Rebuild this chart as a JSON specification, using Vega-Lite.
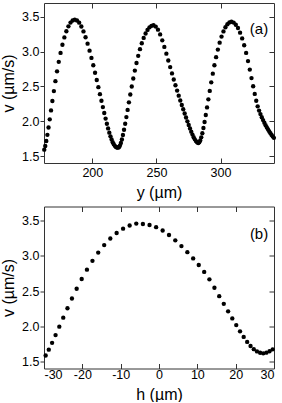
{
  "$schema": "https://vega.github.io/schema/vega-lite/v6.json",
  "padding": {"left": 0, "top": 2, "right": 2, "bottom": 0},
  "spacing": 5.5,
  "config": {
    "view": {"stroke": null},
    "axis": {
      "domainColor": "#333333", "tickColor": "#333333", "domainWidth": 1, "tickWidth": 1,
      "labelFont": "Liberation Sans", "titleFont": "Liberation Sans",
      "labelFontSize": 12.5, "titleFontSize": 16, "titleFontWeight": "normal",
      "labelColor": "black", "titleColor": "black", "grid": false
    }
  },
  "vconcat": [
    {
      "width": 230, "height": 160,
      "data": {"values": [
        {"y_um":162.50,"v":1.592},{"y_um":163.28,"v":1.645},{"y_um":164.09,"v":1.716},{"y_um":164.94,"v":1.805},{"y_um":165.83,"v":1.910},{"y_um":166.78,"v":2.028},{"y_um":167.78,"v":2.156},{"y_um":168.85,"v":2.292},{"y_um":169.99,"v":2.434},{"y_um":171.20,"v":2.576},{"y_um":172.47,"v":2.718},{"y_um":173.81,"v":2.854},{"y_um":175.21,"v":2.983},{"y_um":176.67,"v":3.100},{"y_um":178.19,"v":3.205},{"y_um":179.75,"v":3.294},{"y_um":181.36,"v":3.365},{"y_um":182.98,"v":3.418},{"y_um":184.64,"v":3.449},{"y_um":186.30,"v":3.460},
        {"y_um":188.03,"v":3.449},{"y_um":189.74,"v":3.417},{"y_um":191.44,"v":3.362},{"y_um":193.10,"v":3.292},{"y_um":194.72,"v":3.208},{"y_um":196.30,"v":3.115},{"y_um":197.84,"v":3.015},{"y_um":199.32,"v":2.911},{"y_um":200.75,"v":2.805},{"y_um":202.12,"v":2.698},{"y_um":203.44,"v":2.593},{"y_um":204.71,"v":2.490},{"y_um":205.93,"v":2.390},{"y_um":207.10,"v":2.295},{"y_um":208.23,"v":2.204},{"y_um":209.31,"v":2.118},{"y_um":210.35,"v":2.038},{"y_um":211.35,"v":1.964},{"y_um":212.31,"v":1.897},{"y_um":213.24,"v":1.836},{"y_um":214.15,"v":1.783},{"y_um":215.03,"v":1.738},{"y_um":215.89,"v":1.700},{"y_um":216.73,"v":1.669},{"y_um":217.56,"v":1.647},{"y_um":218.38,"v":1.631},{"y_um":219.19,"v":1.623},{"y_um":220.00,"v":1.620},
        {"y_um":220.75,"v":1.628},{"y_um":221.51,"v":1.650},{"y_um":222.27,"v":1.687},{"y_um":223.06,"v":1.738},{"y_um":223.88,"v":1.802},{"y_um":224.73,"v":1.878},{"y_um":225.62,"v":1.964},{"y_um":226.55,"v":2.060},{"y_um":227.52,"v":2.163},{"y_um":228.54,"v":2.272},{"y_um":229.62,"v":2.385},{"y_um":230.75,"v":2.500},{"y_um":231.93,"v":2.615},{"y_um":233.16,"v":2.728},{"y_um":234.45,"v":2.837},{"y_um":235.78,"v":2.940},{"y_um":237.16,"v":3.036},{"y_um":238.58,"v":3.122},{"y_um":240.04,"v":3.198},{"y_um":241.53,"v":3.262},{"y_um":243.05,"v":3.313},{"y_um":244.59,"v":3.350},{"y_um":246.14,"v":3.372},{"y_um":247.70,"v":3.380},
        {"y_um":249.45,"v":3.361},{"y_um":251.18,"v":3.317},{"y_um":252.89,"v":3.248},{"y_um":254.55,"v":3.163},{"y_um":256.17,"v":3.069},{"y_um":257.74,"v":2.972},{"y_um":259.25,"v":2.874},{"y_um":260.72,"v":2.779},{"y_um":262.14,"v":2.688},{"y_um":263.51,"v":2.601},{"y_um":264.84,"v":2.518},{"y_um":266.13,"v":2.441},{"y_um":267.38,"v":2.368},{"y_um":268.59,"v":2.299},{"y_um":269.77,"v":2.234},{"y_um":270.91,"v":2.172},{"y_um":272.02,"v":2.112},{"y_um":273.10,"v":2.054},{"y_um":274.15,"v":1.999},{"y_um":275.18,"v":1.947},{"y_um":276.18,"v":1.897},{"y_um":277.15,"v":1.851},{"y_um":278.10,"v":1.808},{"y_um":279.03,"v":1.771},{"y_um":279.94,"v":1.740},{"y_um":280.84,"v":1.715},{"y_um":281.72,"v":1.697},{"y_um":282.60,"v":1.687},
        {"y_um":283.38,"v":1.699},{"y_um":284.17,"v":1.725},{"y_um":284.97,"v":1.769},{"y_um":285.80,"v":1.828},{"y_um":286.65,"v":1.903},{"y_um":287.55,"v":1.990},{"y_um":288.49,"v":2.090},{"y_um":289.47,"v":2.199},{"y_um":290.51,"v":2.315},{"y_um":291.60,"v":2.436},{"y_um":292.75,"v":2.560},{"y_um":293.96,"v":2.684},{"y_um":295.22,"v":2.805},{"y_um":296.54,"v":2.921},{"y_um":297.91,"v":3.030},{"y_um":299.32,"v":3.130},{"y_um":300.78,"v":3.217},{"y_um":302.28,"v":3.292},{"y_um":303.81,"v":3.351},{"y_um":305.36,"v":3.395},{"y_um":306.92,"v":3.421},{"y_um":308.50,"v":3.430},
        {"y_um":310.21,"v":3.418},{"y_um":311.91,"v":3.388},{"y_um":313.60,"v":3.340},{"y_um":315.25,"v":3.274},{"y_um":316.87,"v":3.191},{"y_um":318.44,"v":3.093},{"y_um":319.96,"v":2.983},{"y_um":321.42,"v":2.865},{"y_um":322.82,"v":2.743},{"y_um":324.16,"v":2.621},{"y_um":325.44,"v":2.503},{"y_um":326.67,"v":2.393},{"y_um":327.84,"v":2.295},{"y_um":328.96,"v":2.215},{"y_um":330.06,"v":2.153},{"y_um":331.12,"v":2.103},{"y_um":332.16,"v":2.058},{"y_um":333.18,"v":2.017},{"y_um":334.18,"v":1.979},{"y_um":335.16,"v":1.944},{"y_um":336.12,"v":1.912},{"y_um":337.07,"v":1.882},{"y_um":338.01,"v":1.854},{"y_um":338.93,"v":1.828},{"y_um":339.83,"v":1.804},{"y_um":340.73,"v":1.782},{"y_um":341.62,"v":1.762}
      ]},
      "layer": [
        {
          "mark": {"type": "circle", "size": 19, "color": "black", "opacity": 1},
          "encoding": {
            "x": {"field": "y_um", "type": "quantitative", "scale": {"domain": [162.3, 341.7], "nice": false, "zero": false},
                  "axis": {"orient": "bottom", "values": [200, 250, 300], "tickSize": -5, "labelPadding": 8.5, "title": "y (µm)", "titlePadding": 5}},
            "y": {"field": "v", "type": "quantitative", "scale": {"domain": [1.4, 3.7], "nice": false, "zero": false},
                  "axis": {"orient": "left", "values": [1.5, 2, 2.5, 3, 3.5], "format": ".1f", "tickSize": 4, "labelPadding": 1, "title": "v (µm/s)", "titlePadding": 5}}
          }
        },
        {
          "mark": {"type": "circle", "opacity": 0},
          "encoding": {
            "x": {"field": "y_um", "type": "quantitative", "axis": {"orient": "top", "values": [200, 250, 300], "tickSize": -5, "labels": false, "title": null}},
            "y": {"field": "v", "type": "quantitative", "axis": {"orient": "right", "values": [1.5, 2, 2.5, 3, 3.5], "tickSize": -5, "labels": false, "title": null}}
          }
        },
        {
          "data": {"values": [{"label": "(a)"}]},
          "mark": {"type": "text", "fontSize": 15, "font": "Liberation Sans", "fontWeight": "normal", "fill": "#000000", "opacity": 1},
          "encoding": {
            "x": {"datum": 330, "type": "quantitative", "axis": null},
            "y": {"datum": 3.333, "type": "quantitative", "axis": null},
            "text": {"field": "label"}
          }
        }
      ],
      "resolve": {"axis": {"x": "independent", "y": "independent"}}
    },
    {
      "width": 230, "height": 162,
      "data": {"values": [
        {"h_um":-29.57,"v":1.585},{"h_um":-28.75,"v":1.667},{"h_um":-27.89,"v":1.764},{"h_um":-26.98,"v":1.874},{"h_um":-26.01,"v":1.994},{"h_um":-24.98,"v":2.122},{"h_um":-23.88,"v":2.256},{"h_um":-22.71,"v":2.394},{"h_um":-21.48,"v":2.533},{"h_um":-20.17,"v":2.670},{"h_um":-18.80,"v":2.803},{"h_um":-17.36,"v":2.929},{"h_um":-15.86,"v":3.046},{"h_um":-14.30,"v":3.152},{"h_um":-12.70,"v":3.245},{"h_um":-11.05,"v":3.323},{"h_um":-9.37,"v":3.385},{"h_um":-7.66,"v":3.430},{"h_um":-5.93,"v":3.457},{"h_um":-4.20,"v":3.452},{"h_um":-2.47,"v":3.437},{"h_um":-0.75,"v":3.407},{"h_um":0.95,"v":3.359},{"h_um":2.61,"v":3.295},{"h_um":4.25,"v":3.220},{"h_um":5.85,"v":3.138},{"h_um":7.40,"v":3.052},{"h_um":8.91,"v":2.963},{"h_um":10.37,"v":2.870},{"h_um":11.79,"v":2.771},{"h_um":13.15,"v":2.666},{"h_um":14.46,"v":2.547},{"h_um":15.71,"v":2.427},{"h_um":16.90,"v":2.318},{"h_um":18.03,"v":2.212},{"h_um":19.12,"v":2.111},{"h_um":20.15,"v":2.016},{"h_um":21.14,"v":1.928},{"h_um":22.09,"v":1.848},{"h_um":23.00,"v":1.778},{"h_um":23.88,"v":1.720},{"h_um":24.73,"v":1.675},{"h_um":25.56,"v":1.643},{"h_um":26.38,"v":1.623},{"h_um":27.19,"v":1.615},{"h_um":28.01,"v":1.625},{"h_um":28.83,"v":1.645},{"h_um":29.66,"v":1.672}
      ]},
      "layer": [
        {
          "mark": {"type": "circle", "size": 19, "color": "black", "opacity": 1},
          "encoding": {
            "x": {"field": "h_um", "type": "quantitative", "scale": {"domain": [-30, 30], "nice": false, "zero": false},
                  "axis": {"orient": "bottom", "values": [-30, -20, -10, 0, 10, 20, 30], "labelExpr": "'' + datum.value", "tickSize": -5, "labelPadding": 5, "title": "h (µm)", "titlePadding": 5}},
            "y": {"field": "v", "type": "quantitative", "scale": {"domain": [1.4, 3.7], "nice": false, "zero": false},
                  "axis": {"orient": "left", "values": [1.5, 2, 2.5, 3, 3.5], "format": ".1f", "tickSize": 4, "labelPadding": 1, "title": "v (µm/s)", "titlePadding": 5}}
          }
        },
        {
          "mark": {"type": "circle", "opacity": 0},
          "encoding": {
            "x": {"field": "h_um", "type": "quantitative", "axis": {"orient": "top", "values": [-30, -20, -10, 0, 10, 20, 30], "tickSize": -5, "labels": false, "title": null}},
            "y": {"field": "v", "type": "quantitative", "axis": {"orient": "right", "values": [1.5, 2, 2.5, 3, 3.5], "tickSize": -5, "labels": false, "title": null}}
          }
        },
        {
          "data": {"values": [{"label": "(b)"}]},
          "mark": {"type": "text", "fontSize": 15, "font": "Liberation Sans", "fontWeight": "normal", "fill": "#000000", "opacity": 1},
          "encoding": {
            "x": {"datum": 26.1, "type": "quantitative", "axis": null},
            "y": {"datum": 3.309, "type": "quantitative", "axis": null},
            "text": {"field": "label"}
          }
        }
      ],
      "resolve": {"axis": {"x": "independent", "y": "independent"}}
    }
  ]
}
